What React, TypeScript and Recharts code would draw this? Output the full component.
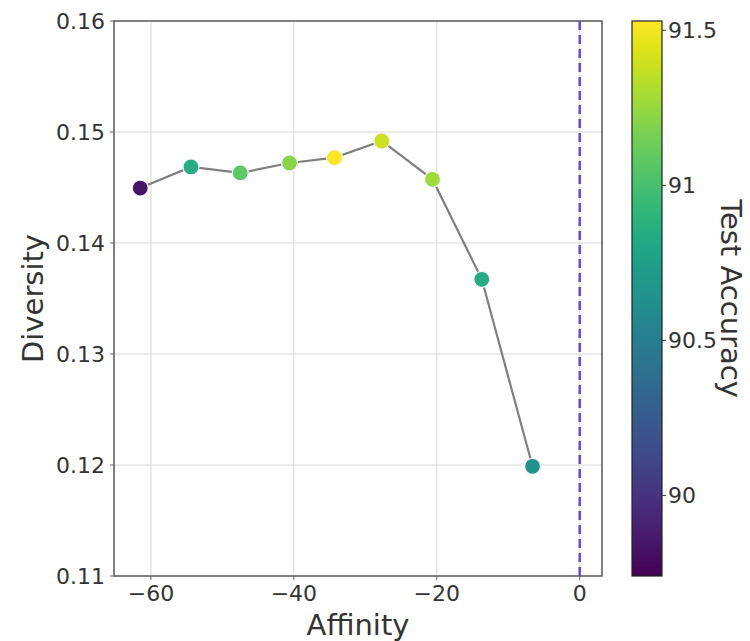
import React from 'react';
import {
  ComposedChart,
  Line,
  Scatter,
  XAxis,
  YAxis,
  CartesianGrid,
  ReferenceLine,
  Customized,
} from 'recharts';

// ---- data ----
const affinity = [-61.5, -54.4, -47.5, -40.6, -34.3, -27.7, -20.6, -13.7, -6.6];
const diversity = [0.14495, 0.14685, 0.14631, 0.14721, 0.14769, 0.14919, 0.14574, 0.13673, 0.11988];
const accuracy = [89.84, 90.85, 91.08, 91.21, 91.53, 91.39, 91.27, 90.84, 90.66];

const xTicks = [-60, -40, -20, 0];
const yTicks = [0.11, 0.12, 0.13, 0.14, 0.15, 0.16];
const cbTicks = [90, 90.5, 91, 91.5];
const cbTickLabels = ['90', '90.5', '91', '91.5'];

const X_DOMAIN: [number, number] = [-65.17, 3.12];
const Y_DOMAIN: [number, number] = [0.11, 0.16];
const CB_MIN = 89.74;
const CB_MAX = 91.53;

const VIRIDIS = [
  '#440154', '#471365', '#482475', '#463480', '#414487', '#3b528b', '#355f8d',
  '#2f6c8e', '#2a788e', '#25848e', '#21918c', '#1e9c89', '#22a884', '#2fb47c',
  '#44bf70', '#5ec962', '#7ad151', '#9bd93c', '#bddf26', '#dfe318', '#fde725',
];

function hexToRgb(h: string) {
  return [parseInt(h.slice(1, 3), 16), parseInt(h.slice(3, 5), 16), parseInt(h.slice(5, 7), 16)];
}
function viridis(t: number) {
  const c = Math.max(0, Math.min(1, t)) * (VIRIDIS.length - 1);
  const i = Math.min(Math.floor(c), VIRIDIS.length - 2);
  const f = c - i;
  const a = hexToRgb(VIRIDIS[i]);
  const b = hexToRgb(VIRIDIS[i + 1]);
  const m = a.map((v, k) => Math.round(v + (b[k] - v) * f));
  return `rgb(${m[0]},${m[1]},${m[2]})`;
}
const accColor = (a: number) => viridis((a - CB_MIN) / (CB_MAX - CB_MIN));

const data = affinity.map((x, i) => ({ x, y: diversity[i], acc: accuracy[i] }));

// ---- layout ----
const W = 750;
const H = 641;
const MARGIN = { top: 21, right: 148, left: 0, bottom: 0 };
const Y_AXIS_W = 114;
const X_AXIS_H = 65;
const PLOT_L = MARGIN.left + Y_AXIS_W;
const PLOT_T = MARGIN.top;
const PLOT_R = W - MARGIN.right;
const PLOT_B = H - MARGIN.bottom - X_AXIS_H;
const CB_X = 632;
const CB_W = 30;

const FONT = "'DejaVu Sans', 'Liberation Sans', sans-serif";
const TEXT = '#333333';
const SPINE = '#666666';

const fmtX = (v: number) => String(v).replace('-', '\u2212');
const fmtY = (v: number) => v.toFixed(2);

const Decorations = () => {
  const cbY = (v: number) => PLOT_B - ((v - CB_MIN) / (CB_MAX - CB_MIN)) * (PLOT_B - PLOT_T);
  const midY = (PLOT_T + PLOT_B) / 2;
  return (
    <g>
      <defs>
        <linearGradient id="viridisGrad" x1="0" y1="1" x2="0" y2="0">
          {VIRIDIS.map((c, i) => (
            <stop key={i} offset={i / (VIRIDIS.length - 1)} stopColor={c} />
          ))}
        </linearGradient>
      </defs>
      {/* plot frame */}
      <rect
        x={PLOT_L}
        y={PLOT_T}
        width={PLOT_R - PLOT_L}
        height={PLOT_B - PLOT_T}
        fill="none"
        stroke={SPINE}
        strokeWidth={1.6}
      />
      {/* colorbar */}
      <rect
        x={CB_X}
        y={PLOT_T}
        width={CB_W}
        height={PLOT_B - PLOT_T}
        fill="url(#viridisGrad)"
        stroke="#222"
        strokeWidth={1.2}
      />
      {cbTicks.map((v, i) => (
        <g key={v}>
          <line x1={CB_X + CB_W} x2={CB_X + CB_W + 4} y1={cbY(v)} y2={cbY(v)} stroke="#333" strokeWidth={1} />
          <text
            x={CB_X + CB_W + 6}
            y={cbY(v)}
            fontFamily={FONT}
            fontSize={22}
            fill={TEXT}
            dominantBaseline="central"
          >
            {cbTickLabels[i]}
          </text>
        </g>
      ))}
      {/* axis titles */}
      <text x={(PLOT_L + PLOT_R) / 2} y={635} textAnchor="middle" fontFamily={FONT} fontSize={29} fill={TEXT}>
        Affinity
      </text>
      <text
        x={43}
        y={midY}
        textAnchor="middle"
        fontFamily={FONT}
        fontSize={29}
        fill={TEXT}
        transform={`rotate(-90 43 ${midY})`}
      >
        Diversity
      </text>
      <text
        x={721}
        y={midY}
        textAnchor="middle"
        fontFamily={FONT}
        fontSize={29}
        fill={TEXT}
        transform={`rotate(90 721 ${midY})`}
      >
        Test Accuracy
      </text>
    </g>
  );
};

const Dot = (props: any) => {
  const { cx, cy, payload } = props;
  if (cx == null || cy == null) return null;
  return <circle cx={cx} cy={cy} r={8} fill={accColor(payload.acc)} stroke="#f4f4ff" strokeWidth={1.2} />;
};

export default function App() {
  return (
    <div style={{ position: 'absolute', left: 0, top: 0, width: W, height: H, background: '#fff' }}>
      <ComposedChart width={W} height={H} data={data} margin={MARGIN}>
        <CartesianGrid stroke="#d8d8d8" strokeWidth={1} />
        <XAxis
          dataKey="x"
          type="number"
          domain={X_DOMAIN}
          ticks={xTicks}
          tickFormatter={fmtX}
          allowDataOverflow
          height={X_AXIS_H}
          axisLine={false}
          tickSize={4}
          tickMargin={5}
          tickLine={{ stroke: SPINE }}
          tick={{ fill: TEXT, fontSize: 22, fontFamily: FONT }}
        />
        <YAxis
          type="number"
          domain={Y_DOMAIN}
          ticks={yTicks}
          tickFormatter={fmtY}
          allowDataOverflow
          width={Y_AXIS_W}
          axisLine={false}
          tickSize={4}
          tickMargin={5}
          tickLine={{ stroke: SPINE }}
          tick={{ fill: TEXT, fontSize: 22, fontFamily: FONT }}
        />
        <ReferenceLine x={0} stroke="#6a45d8" strokeWidth={2.5} strokeDasharray="9 5" />
        <Line
          dataKey="y"
          type="linear"
          stroke="#7f7f7f"
          strokeWidth={2.2}
          dot={false}
          activeDot={false}
          isAnimationActive={false}
        />
        <Scatter dataKey="y" shape={Dot} isAnimationActive={false} />
        <Customized component={Decorations} />
      </ComposedChart>
    </div>
  );
}
